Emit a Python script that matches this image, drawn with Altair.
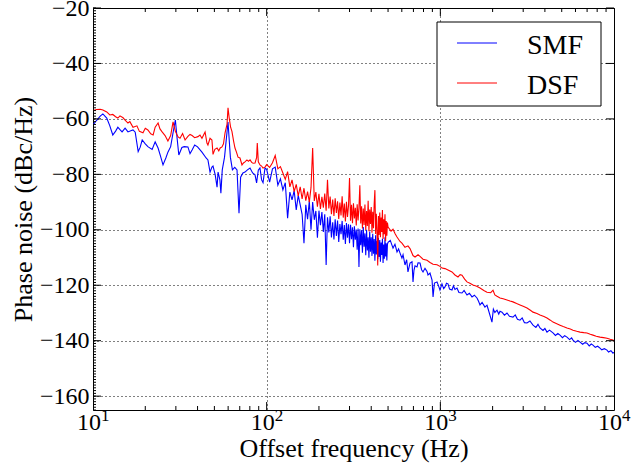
import altair as alt
import pandas as pd

FONT = "Liberation Serif"

# ---------------- data ----------------
# DSF (red), 10-100 Hz
dsf_lo_f = [10.0, 10.5, 11.0, 11.4, 12.0, 12.5, 13.0, 13.5, 13.9, 14.3, 14.9, 15.3, 15.9, 16.3,
            17.0, 17.9, 18.5, 19.4, 20.0, 20.7, 21.5, 22.2, 22.8, 23.7, 24.3, 25.0, 26.0, 27.0,
            28.0, 28.9, 29.8, 30.9, 31.7, 32.8, 33.9, 35.2, 36.2, 37.2, 38.5, 40.2, 41.3, 42.4,
            44.2, 45.3, 45.9, 47.2, 48.4, 49.1, 50.3, 51.8, 53.0, 54.0, 55.3, 56.4, 57.6, 59.1,
            59.9, 60.8, 62.0, 63.1, 64.5, 65.7, 67.0, 68.4, 70.2, 72.1, 73.5, 75.0, 77.0, 78.5,
            80.2, 82.0, 83.5, 85.7, 87.5, 88.3, 89.5, 91.5, 93.5, 95.3, 97.8]
dsf_lo_db = [-57.0, -56.6, -56.5, -56.8, -57.5, -58.6, -58.4, -59.2, -59.7, -58.9, -59.6, -60.4,
             -61.5, -61.0, -63.0, -62.5, -64.5, -65.0, -63.4, -64.0, -65.4, -65.8, -63.0, -61.5,
             -63.6, -64.7, -66.0, -68.0, -66.0, -61.1, -64.5, -66.5, -67.0, -65.3, -67.6, -66.3,
             -65.6, -66.0, -66.8, -66.4, -65.8, -67.0, -64.7, -68.7, -69.4, -67.0, -67.6, -72.8,
             -71.0, -70.5, -71.5, -70.5, -70.1, -69.0, -65.0, -62.0, -56.0, -59.5, -63.0, -64.5,
             -68.0, -70.5, -72.0, -73.8, -74.1, -76.6, -75.9, -75.5, -74.8, -75.3, -74.8, -75.7,
             -76.0, -75.9, -74.0, -68.7, -75.5, -76.6, -77.0, -77.7, -77.4]

# FFT bins of the dense 100-500 Hz band (both traces)
band_f = list(range(100, 500, 4))
dsf_band_db = [
    -76.5, -77.5, -75.8, -73.2, -78.0, -77.2, -79.5, -81.8, -79.0, -84.5,
    -82.0, -86.2, -83.6, -87.8, -84.5, -88.9, -85.0, -89.5, -86.2, -90.0,
    -84.8, -70.5, -89.6, -86.4, -91.7, -87.0, -92.5, -88.1, -92.0, -86.9,
    -93.1, -82.0, -92.3, -88.0, -94.4, -89.1, -95.0, -88.6, -93.9, -89.7,
    -96.1, -90.2, -94.8, -87.9, -95.6, -90.5, -97.0, -89.9, -95.4, -91.2,
    -81.3, -96.7, -91.0, -97.6, -90.4, -95.9, -92.1, -98.4, -90.8, -96.6,
    -92.0, -83.9, -97.7, -91.5, -99.5, -92.3, -98.3, -90.9, -100.1, -93.2,
    -98.6, -89.5, -100.5, -92.7, -97.9, -91.8, -101.1, -93.5, -99.4, -90.6,
    -85.7, -101.5, -94.2, -100.3, -112.9, -95.0, -101.9, -93.8, -102.7, -95.6,
    -100.8, -92.9, -103.3, -96.2, -101.6, -94.4, -104.0, -96.8, -102.1, -97.4]

dsf_hi_f = [500, 520, 534, 550, 563, 586, 601, 626, 651, 669, 696, 715, 744, 764, 795, 838, 872,
            908, 957, 995, 1022, 1064, 1107, 1167, 1214, 1264, 1300, 1333, 1380, 1424, 1480, 1542,
            1620, 1692, 1780, 1856, 1950, 2011, 2060, 2120, 2206, 2300, 2420, 2520, 2620, 2750,
            2876, 3000, 3155, 3300, 3417, 3600, 3749, 3950, 4113, 4300, 4454, 4650, 4887, 5100,
            5361, 5600, 5806, 6100, 6371, 6700, 6990, 7300, 7568, 7900, 8307, 8700, 9114, 9500,
            9867, 10000]
dsf_hi_db = [-99.0, -100.5, -99.8, -101.5, -102.6, -104.2, -104.8, -106.3, -105.8, -106.8, -109.3,
             -109.8, -109.0, -109.6, -110.6, -111.0, -111.8, -112.4, -112.6, -113.2, -113.8,
             -114.0, -114.5, -115.2, -116.3, -117.0, -116.2, -116.4, -117.8, -118.8, -119.3,
             -119.9, -120.4, -121.0, -121.9, -122.5, -122.7, -121.8, -123.5, -124.0, -124.6,
             -124.9, -125.3, -125.7, -126.0, -126.6, -127.1, -127.6, -128.2, -129.0, -129.7,
             -130.2, -130.7, -131.3, -131.8, -132.6, -133.3, -133.8, -134.4, -134.9, -135.4,
             -135.8, -136.2, -136.6, -136.9, -137.1, -137.2, -137.7, -138.0, -138.4, -138.7,
             -138.9, -139.1, -139.5, -139.8, -140.0]

# SMF (blue), 10-100 Hz
smf_lo_f = [10.0, 10.5, 11.0, 11.4, 12.0, 12.5, 13.0, 13.5, 13.9, 14.3, 14.7, 15.3, 15.9, 16.5,
            17.0, 17.5, 18.2, 18.7, 19.2, 20.0, 20.7, 21.9, 22.8, 23.7, 24.5, 25.3, 26.3, 27.0,
            28.0, 28.9, 29.8, 30.5, 31.2, 32.5, 33.5, 35.2, 36.2, 37.2, 38.5, 40.0, 42.4, 44.8,
            45.9, 47.2, 48.4, 49.1, 50.5, 51.8, 52.5, 53.8, 54.5, 55.5, 57.2, 59.9, 61.8, 63.5,
            65.5, 67.5, 69.3, 70.8, 73.0, 75.0, 77.5, 80.2, 83.0, 85.7, 87.5, 89.5, 91.5, 93.5,
            95.3, 97.8]
smf_lo_db = [-62.2, -60.5, -59.0, -58.2, -59.7, -62.5, -65.8, -64.4, -63.0, -63.9, -64.7, -63.3,
             -64.7, -64.3, -64.0, -64.8, -71.8, -70.2, -67.6, -69.0, -70.0, -71.0, -68.3, -70.5,
             -73.5, -76.6, -74.0, -72.0, -70.0, -65.0, -60.4, -67.0, -73.0, -70.3, -70.0, -70.1,
             -72.5, -71.2, -69.4, -70.1, -72.0, -74.1, -74.8, -79.2, -77.4, -77.0, -80.0, -84.6,
             -79.2, -82.0, -86.8, -78.4, -73.8, -61.1, -73.8, -78.4, -77.5, -78.4, -94.0, -81.0,
             -79.5, -79.2, -78.4, -77.7, -79.5, -80.2, -83.1, -78.5, -77.7, -82.0, -83.0, -77.7]

smf_band_db = [
    -78.2, -82.8, -78.0, -77.4, -83.9, -81.6, -85.6, -83.0, -95.8, -86.4,
    -89.2, -85.9, -92.8, -87.6, -91.0, -94.4, -104.8, -91.0, -96.2, -89.6,
    -100.0, -90.0, -96.4, -93.2, -102.9, -93.1, -98.3, -93.6, -100.8, -94.4,
    -112.7, -95.5, -101.0, -95.1, -102.8, -97.3, -103.5, -96.2, -102.2, -96.7,
    -104.4, -97.9, -101.6, -96.8, -103.6, -98.3, -105.1, -97.6, -102.9, -98.0,
    -104.8, -98.2, -103.4, -99.1, -106.3, -98.7, -103.6, -99.9, -107.2, -99.5,
    -113.4, -99.8, -105.6, -100.2, -108.3, -99.0, -106.1, -101.3, -109.2, -100.0,
    -107.5, -102.7, -110.1, -100.6, -107.9, -102.7, -109.4, -101.4, -108.6, -103.3,
    -111.2, -102.0, -108.9, -104.0, -110.6, -102.9, -109.8, -103.7, -111.5, -104.6,
    -109.1, -103.2, -112.0, -105.3, -110.4, -102.7, -109.6, -104.9, -111.1, -105.2]

smf_hi_f = [500, 515, 534, 548, 563, 575, 586, 601, 610, 626, 640, 651, 669, 687, 696, 705, 715,
            734, 744, 764, 780, 795, 816, 838, 849, 872, 896, 908, 925, 957, 980, 995, 1022, 1045,
            1064, 1085, 1107, 1130, 1167, 1190, 1214, 1247, 1280, 1333, 1370, 1424, 1470, 1522,
            1570, 1626, 1660, 1692, 1740, 1807, 1856, 1881, 1983, 2020, 2060, 2120, 2170, 2206,
            2265, 2340, 2420, 2500, 2620, 2700, 2780, 2876, 2960, 3050, 3155, 3280, 3417, 3550,
            3650, 3749, 3900, 4000, 4113, 4250, 4454, 4600, 4750, 4887, 5050, 5200, 5361, 5550,
            5700, 5806, 6000, 6200, 6371, 6600, 6800, 6990, 7200, 7400, 7568, 7800, 8050, 8307,
            8500, 8800, 9114, 9300, 9600, 9867, 10000]
smf_hi_db = [-104.5, -103.8, -106.6, -105.2, -108.0, -106.9, -108.4, -110.2, -109.0, -112.7,
             -110.8, -115.2, -112.0, -111.5, -118.8, -114.6, -113.0, -113.4, -111.9, -112.0,
             -114.4, -115.2, -113.9, -115.0, -116.3, -115.6, -118.1, -124.2, -119.2, -118.8,
             -120.5, -121.7, -119.5, -121.2, -120.6, -119.3, -119.5, -121.4, -121.7, -120.2,
             -121.5, -121.0, -122.6, -122.8, -121.9, -123.5, -122.9, -124.2, -123.6, -124.6,
             -125.8, -127.1, -126.2, -127.9, -127.2, -128.4, -133.3, -128.6, -129.8, -129.0,
             -130.4, -129.4, -129.7, -130.8, -130.0, -131.2, -131.5, -130.7, -132.3, -132.6,
             -131.8, -133.5, -133.6, -132.9, -134.4, -135.2, -134.1, -135.4, -136.3, -135.6,
             -136.9, -136.2, -137.2, -138.1, -137.4, -138.0, -138.9, -138.2, -138.7, -139.6,
             -139.0, -139.8, -140.6, -139.9, -140.5, -141.3, -140.7, -140.9, -141.9, -141.2,
             -141.6, -142.4, -142.0, -142.7, -143.3, -142.9, -143.4, -144.1, -143.6, -144.5,
             -144.2]

series_names = ["SMF", "DSF"]
series_colors = ["#0000ff", "#ff0000"]

y_major = list(range(-160, -19, 20))
y_minor = list(range(-165, -19, 1))
x_decades = [10, 100, 1000, 10000]
x_exponents = ["1", "2", "3", "4"]
x_inner_decades = [100, 1000]
x_minor = [m * d for d in (10, 100, 1000) for m in range(2, 10)]

# ---------------- tables ----------------
smf = pd.DataFrame({"f": smf_lo_f + band_f + smf_hi_f,
                    "db": smf_lo_db + smf_band_db + smf_hi_db})
dsf = pd.DataFrame({"f": dsf_lo_f + band_f + dsf_hi_f,
                    "db": dsf_lo_db + dsf_band_db + dsf_hi_db})

W, H = 521, 402
xs = alt.Scale(type="log", domain=[10, 10000], nice=False)
ys = alt.Scale(domain=[-165, -20], nice=False, zero=False)

grid_style = dict(grid=True, gridColor="black", gridDash=[1, 3], gridOpacity=1, gridWidth=1)

x_axis = alt.Axis(values=x_decades, labels=False, ticks=False, domain=False,
                  title="Offset frequency (Hz)", titleFont=FONT, titleFontSize=26,
                  titleFontWeight="normal", titleColor="black", titleX=W / 2, titleY=38,
                  titleAlign="center", titleBaseline="middle", **grid_style)
y_axis = alt.Axis(values=y_major, ticks=False, domain=False, labelFont=FONT, labelFontSize=24,
                  labelColor="black", labelPadding=4, labelFlush=False, labelOverlap=False,
                  title="Phase noise (dBc/Hz)", titleFont=FONT, titleFontSize=26,
                  titleFontWeight="normal", titleColor="black", titleX=-70, titleY=H / 2,
                  titleAngle=270, titleAlign="center", titleBaseline="middle", **grid_style)

XF = lambda: alt.X("f:Q", scale=xs, axis=x_axis)
YV = lambda field: alt.Y(field, scale=ys, axis=y_axis)

blue = alt.Chart(smf).mark_line(color=series_colors[0], strokeWidth=1.1, clip=True).encode(
    x=XF(), y=YV("db:Q"))
red = alt.Chart(dsf).mark_line(color=series_colors[1], strokeWidth=1.1, clip=True).encode(
    x=XF(), y=YV("db:Q"))

def xticks(values, y0, y1):
    return alt.Chart(pd.DataFrame({"f": values})).mark_rule(color="black", strokeWidth=1).encode(
        x=XF(), y=alt.value(y0), y2=alt.value(y1))

def yticks(values, x0, x1):
    return alt.Chart(pd.DataFrame({"db": values})).mark_rule(color="black", strokeWidth=1).encode(
        y=YV("db:Q"), x=alt.value(x0), x2=alt.value(x1))

tick_layers = [
    xticks(x_inner_decades, H, H - 8), xticks(x_inner_decades, 0, 8),
    xticks(x_minor, H, H - 4), xticks(x_minor, 0, 4),
    yticks(y_major, 0, 8), yticks(y_major, W, W - 8),
    yticks(y_minor, 0, 3),
]

# x tick labels 10^n
xlab_df = pd.DataFrame({"f": x_decades, "e": x_exponents, "b": ["10"] * 4})
xlab_base = alt.Chart(xlab_df).mark_text(font=FONT, fontSize=24, color="black", align="center",
                                         baseline="alphabetic", dx=-4).encode(
    x=XF(), y=alt.value(H + 20), text="b:N")
xlab_exp = alt.Chart(xlab_df).mark_text(font=FONT, fontSize=17, color="black", align="left",
                                        baseline="alphabetic", dx=8).encode(
    x=XF(), y=alt.value(H + 11), text="e:N")

# legend box
leg_box = alt.Chart(pd.DataFrame({"k": [0]})).mark_rect(fill="white", stroke="black",
                                                          strokeWidth=1).encode(
    x=alt.value(344), x2=alt.value(508), y=alt.value(14), y2=alt.value(98))
leg_layers = [leg_box]
for name, col, yy in zip(series_names, series_colors, [35, 75]):
    d = pd.DataFrame({"t": [name]})
    leg_layers.append(alt.Chart(d).mark_rule(color=col, strokeWidth=1).encode(
        x=alt.value(364), x2=alt.value(404), y=alt.value(yy)))
    leg_layers.append(alt.Chart(d).mark_text(font=FONT, fontSize=28, color="black",
                                             align="left", baseline="alphabetic").encode(
        x=alt.value(434), y=alt.value(yy + 11), text="t:N"))

chart = alt.layer(blue, red, *tick_layers, xlab_base, xlab_exp, *leg_layers).properties(
    width=W, height=H,
    padding={"left": 93, "top": 8, "right": 27, "bottom": 56},
    autosize=alt.AutoSizeParams(type="none"),
    background="white",
).configure_view(stroke="black", strokeWidth=1).configure_axis(
    labelFont=FONT, titleFont=FONT, labelColor="black", titleColor="black",
    titleFontWeight="normal",
).configure_text(font=FONT)

chart.save("out.html", embed_options={"renderer": "svg", "actions": False})
